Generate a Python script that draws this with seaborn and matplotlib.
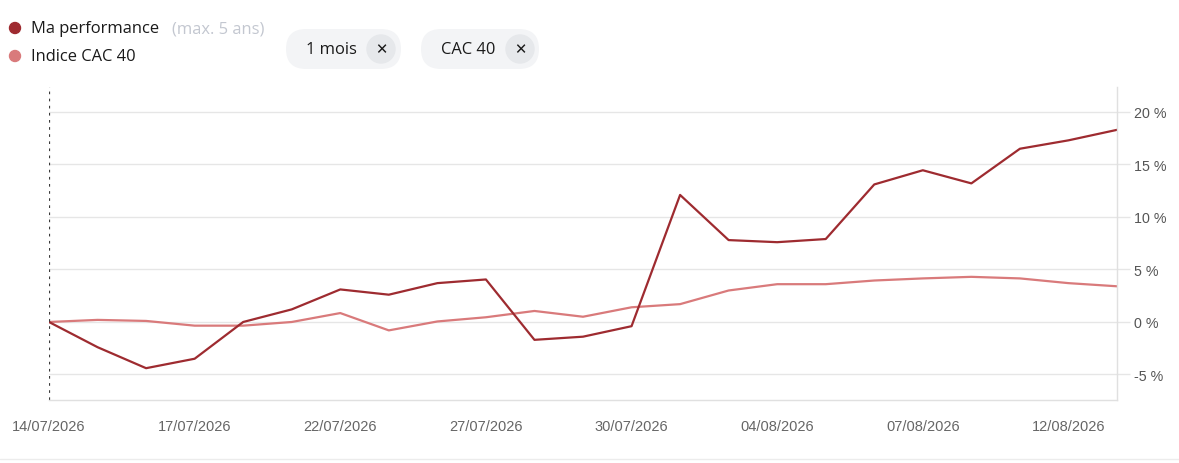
import matplotlib
matplotlib.use("Agg")
import matplotlib.pyplot as plt
import matplotlib.patches as mpatches
from matplotlib.transforms import IdentityTransform
import pandas as pd
import seaborn as sns

dates = ["14/07/2026", "15/07/2026", "16/07/2026", "17/07/2026", "20/07/2026", "21/07/2026",
         "22/07/2026", "23/07/2026", "24/07/2026", "27/07/2026", "28/07/2026", "29/07/2026",
         "30/07/2026", "31/07/2026", "03/08/2026", "04/08/2026", "05/08/2026", "06/08/2026",
         "07/08/2026", "10/08/2026", "11/08/2026", "12/08/2026", "13/08/2026"]
perf = [0.0, -2.4, -4.4, -3.5, 0.0, 1.2, 3.1, 2.6, 3.7, 4.05, -1.7, -1.4,
        -0.4, 12.1, 7.8, 7.6, 7.9, 13.1, 14.45, 13.2, 16.5, 17.3, 18.3]
cac = [0.0, 0.2, 0.1, -0.35, -0.35, 0.0, 0.85, -0.8, 0.05, 0.45, 1.05, 0.5,
       1.4, 1.7, 3.0, 3.6, 3.6, 3.95, 4.15, 4.3, 4.15, 3.7, 3.4]
tick_idx = [0, 3, 6, 9, 12, 15, 18, 21]
yticks = [-5, 0, 5, 10, 15, 20]

PERF_COLOR = "#9e2b30"
CAC_COLOR = "#d97a7b"
W, H = 1179, 464

df = pd.DataFrame({"x": list(range(len(dates))) * 2,
                   "val": perf + cac,
                   "serie": ["Ma performance"] * len(perf) + ["Indice CAC 40"] * len(cac)})

sns.set_style("white")
plt.rcParams["font.family"] = ["Liberation Sans", "DejaVu Sans"]

fig = plt.figure(figsize=(W / 100, H / 100), dpi=100)
ax = fig.add_axes([49 / W, 1 - 401 / H, (1117 - 49) / W, (401 - 88) / H])

sns.lineplot(data=df, x="x", y="val", hue="serie",
             palette={"Ma performance": PERF_COLOR, "Indice CAC 40": CAC_COLOR},
             hue_order=["Indice CAC 40", "Ma performance"],
             linewidth=1.6, legend=False, ax=ax)

ax.set_xlim(0, len(dates) - 1)
ax.set_ylim(-7.43, 22.38)
ax.set_xlabel("")
ax.set_ylabel("")

ax.set_yticks(yticks)
ax.set_yticklabels([f"{v} %" for v in yticks])
ax.yaxis.tick_right()
ax.grid(True, axis="y", color="#e6e6e6", linewidth=1)
ax.grid(False, axis="x")
ax.tick_params(axis="y", length=9, width=1, color="#e6e6e6", labelsize=10.3,
               labelcolor="#555555", pad=3)

ax.set_xticks(tick_idx)
ax.set_xticklabels([dates[i] for i in tick_idx])
ax.tick_params(axis="x", length=0, labelsize=10.5, labelcolor="#666666", pad=14)

for side in ["top", "left"]:
    ax.spines[side].set_visible(False)
ax.spines["right"].set_color("#e0e0e0")
ax.spines["bottom"].set_color("#e0e0e0")
ax.spines["right"].set_linewidth(1)
ax.spines["bottom"].set_linewidth(1)

# ligne pointillée au départ
ax.axvline(0, color="#3a3a3a", linestyle=(0, (1.2, 2.0)), linewidth=1.6)

# ligne de séparation en bas
fig.add_artist(plt.Line2D([0, 1], [1 - 460 / H] * 2, color="#ececec", linewidth=1,
                          transform=fig.transFigure))

# légende
fig.add_artist(mpatches.Circle((15, H - 29), 5.5, color=PERF_COLOR, transform=IdentityTransform()))
fig.add_artist(mpatches.Circle((15, H - 57), 5.5, color=CAC_COLOR, transform=IdentityTransform()))
fig.text(31 / W, 1 - 29 / H, "Ma performance", family=["Open Sans", "DejaVu Sans"],
         fontsize=11.9, color="#1a1a1a", va="center")
fig.text(172 / W, 1 - 29 / H, "(max. 5 ans)", family=["Open Sans", "DejaVu Sans"],
         fontsize=11.9, color="#c3c7d0", va="center")
fig.text(31 / W, 1 - 57 / H, "Indice CAC 40", family=["Open Sans", "DejaVu Sans"],
         fontsize=11.9, color="#1a1a1a", va="center")

# filtres
chips = [("1 mois", 286, 401, 381), ("CAC 40", 421, 539, 520)]
for label, x0, x1, cx in chips:
    box = mpatches.FancyBboxPatch((x0 + 20, H - 70 + 20), x1 - x0 - 40, 0,
                                  boxstyle="round,pad=20", facecolor="#f3f4f6",
                                  edgecolor="none", transform=IdentityTransform())
    fig.add_artist(box)
    fig.add_artist(mpatches.Circle((cx, H - 50), 14, color="#e6e8eb", transform=IdentityTransform()))
    fig.text((x0 + 20) / W, 1 - 50 / H, label, family=["Open Sans", "DejaVu Sans"],
             fontsize=11.9, color="#1a1a1a", va="center")
    fig.text(cx / W, 1 - 50 / H, "✕", family=["DejaVu Sans"], fontsize=10.5,
             fontweight="bold", color="#1a1a1a", va="center", ha="center")

fig.savefig("out.png", dpi=100)
